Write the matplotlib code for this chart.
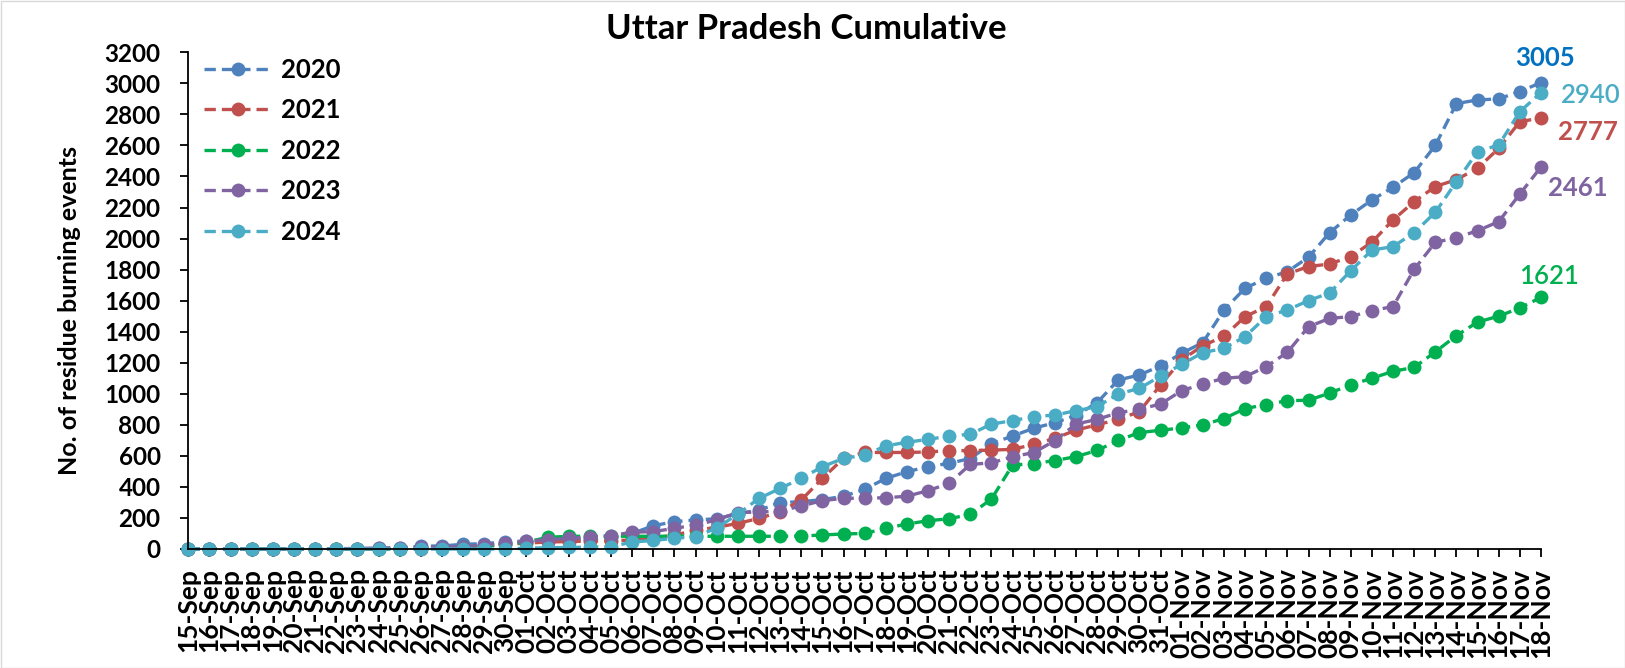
import matplotlib
matplotlib.use("Agg")
import matplotlib.pyplot as plt
from matplotlib.patches import Rectangle

dates = ["15-Sep", "16-Sep", "17-Sep", "18-Sep", "19-Sep", "20-Sep", "21-Sep", "22-Sep",
         "23-Sep", "24-Sep", "25-Sep", "26-Sep", "27-Sep", "28-Sep", "29-Sep", "30-Sep",
         "01-Oct", "02-Oct", "03-Oct", "04-Oct", "05-Oct", "06-Oct", "07-Oct", "08-Oct",
         "09-Oct", "10-Oct", "11-Oct", "12-Oct", "13-Oct", "14-Oct", "15-Oct", "16-Oct",
         "17-Oct", "18-Oct", "19-Oct", "20-Oct", "21-Oct", "22-Oct", "23-Oct", "24-Oct",
         "25-Oct", "26-Oct", "27-Oct", "28-Oct", "29-Oct", "30-Oct", "31-Oct",
         "01-Nov", "02-Nov", "03-Nov", "04-Nov", "05-Nov", "06-Nov", "07-Nov", "08-Nov",
         "09-Nov", "10-Nov", "11-Nov", "12-Nov", "13-Nov", "14-Nov", "15-Nov", "16-Nov",
         "17-Nov", "18-Nov"]

y2020 = [0, 0, 0, 0, 0, 0, 2, 2, 3, 5, 8, 18, 20, 30, 35, 45,
         52, 55, 60, 65, 75, 100, 150, 176, 187, 195, 228, 250, 299, 305, 318, 340,
         384, 455, 498, 530, 552, 583, 679, 728, 778, 814, 860, 943, 1089, 1121, 1180,
         1261, 1330, 1540, 1680, 1744, 1787, 1880, 2038, 2152, 2249, 2330, 2425, 2600,
         2870, 2893, 2900, 2947, 3005]
y2021 = [0, 0, 0, 0, 0, 0, 0, 0, 0, 0, 2, 3, 5, 10, 20, 30,
         38, 45, 48, 51, 53, 58, 70, 90, 120, 140, 165, 197, 240, 315, 455, 584,
         622, 622, 622, 625, 634, 634, 637, 642, 674, 713, 766, 800, 835, 885, 1057,
         1218, 1310, 1370, 1497, 1562, 1772, 1820, 1836, 1884, 1977, 2120, 2238, 2335,
         2380, 2453, 2581, 2753, 2777]
y2022 = [0, 0, 0, 0, 0, 0, 0, 0, 0, 0, 0, 5, 8, 12, 20, 30,
         45, 75, 82, 82, 82, 82, 82, 82, 82, 82, 82, 82, 82, 84, 90, 97,
         100, 133, 161, 182, 195, 223, 322, 541, 550, 570, 595, 635, 700, 750, 765,
         780, 800, 840, 905, 930, 956, 958, 1005, 1057, 1100, 1145, 1170, 1270,
         1375, 1462, 1500, 1553, 1621]
y2023 = [0, 0, 0, 0, 0, 0, 0, 2, 3, 5, 8, 10, 12, 15, 26, 40,
         50, 60, 68, 78, 86, 108, 112, 133, 155, 187, 235, 238, 245, 277, 312, 326,
         328, 330, 340, 376, 423, 545, 555, 595, 621, 698, 805, 835, 878, 900, 934,
         1020, 1063, 1100, 1110, 1175, 1267, 1432, 1486, 1497, 1536, 1562, 1802, 1976,
         2005, 2051, 2109, 2287, 2461]
y2024 = [0, 0, 0, 0, 0, 0, 0, 0, 0, 0, 0, 0, 0, 0, 0, 0,
         5, 8, 10, 12, 15, 45, 55, 69, 80, 135, 225, 326, 390, 455, 530, 584,
         605, 664, 688, 706, 728, 739, 805, 827, 853, 863, 891, 917, 999, 1035, 1114,
         1190, 1265, 1293, 1368, 1497, 1540, 1600, 1650, 1793, 1926, 1948, 2038, 2169,
         2367, 2560, 2603, 2818, 2940]

series_names = ["2020", "2021", "2022", "2023", "2024"]
series_values = [y2020, y2021, y2022, y2023, y2024]
colors = ["#4F81BD", "#C0504D", "#00B050", "#8064A2", "#4BACC6"]
label_colors = ["#0070C0", "#4BACC6", "#C0504D", "#8064A2", "#00B050"]

plt.rcParams['font.family'] = ['Lato', 'DejaVu Sans']

W, H = 1625, 668
fig = plt.figure(figsize=(W / 100, H / 100), dpi=100)
x0, x1 = 188.3, 1541.0
ytop, ybot = 52.3, 549.0
ax = fig.add_axes([x0 / W, 1 - ybot / H, (x1 - x0) / W, (ybot - ytop) / H])

xs = list(range(len(dates)))
for name, vals, c in zip(series_names, series_values, colors):
    ax.plot(xs, vals, color=c, lw=2.4, linestyle=(0, (3.4, 1.8)),
            marker='o', markersize=10, markeredgewidth=0, label=name, clip_on=False)

ax.set_xlim(0, len(dates) - 1)
ax.set_ylim(0, 3200)
ax.set_yticks(range(0, 3201, 200))
ax.set_xticks(xs)
ax.set_xticklabels(dates, rotation=90, fontsize=19, fontweight='bold')
for lab in ax.get_yticklabels():
    lab.set_fontsize(17.5)
    lab.set_fontweight('bold')
ax.tick_params(axis='y', direction='out', length=6, width=1.3, pad=14, colors='black')
ax.tick_params(axis='x', direction='out', length=6, width=1.3, pad=8, colors='black')
for s in ['top', 'right']:
    ax.spines[s].set_visible(False)
for s in ['left', 'bottom']:
    ax.spines[s].set_linewidth(1.3)
    ax.spines[s].set_color('black')

leg = ax.legend(loc='upper left', bbox_to_anchor=(0.0, 1.02), frameon=False,
                prop={'family': 'Lato', 'weight': 'bold', 'size': 18.5},
                handlelength=2.7, handletextpad=0.3, labelspacing=0.64,
                borderaxespad=0.2, numpoints=1)

# end labels
end_labels = [("3005", 0, (3, 18), 'center', 'bold'),
              ("2940", 4, (14, -2), 'left', 'normal'),
              ("2777", 1, (12, -10), 'left', 'bold'),
              ("2461", 3, (5, -15), 'left', 'bold'),
              ("1621", 2, (6, 15), 'center', 'normal')]
for i, (txt, si, off, ha, wt) in enumerate(end_labels):
    ax.annotate(txt, xy=(xs[-1], series_values[si][-1]), xytext=off,
                textcoords='offset points', ha=ha, va='center',
                fontsize=18.5, fontweight='bold' if wt == 'bold' else 'semibold',
                color=label_colors[i], annotation_clip=False)

fig.text(806 / W, 1 - 29 / H, "Uttar Pradesh Cumulative", ha='center', va='center',
         fontsize=25, fontweight='bold')
fig.text(70 / W, 1 - 311 / H, "No. of residue burning events", ha='center', va='center',
         rotation=90, fontsize=18, fontweight='bold')

fig.patches.append(Rectangle((0.5 / W, 0.5 / H), 1 - 1.0 / W, 1 - 1.0 / H,
                             transform=fig.transFigure, fill=False,
                             edgecolor='#D9D9D9', lw=1))

fig.savefig("out.png", dpi=100)
